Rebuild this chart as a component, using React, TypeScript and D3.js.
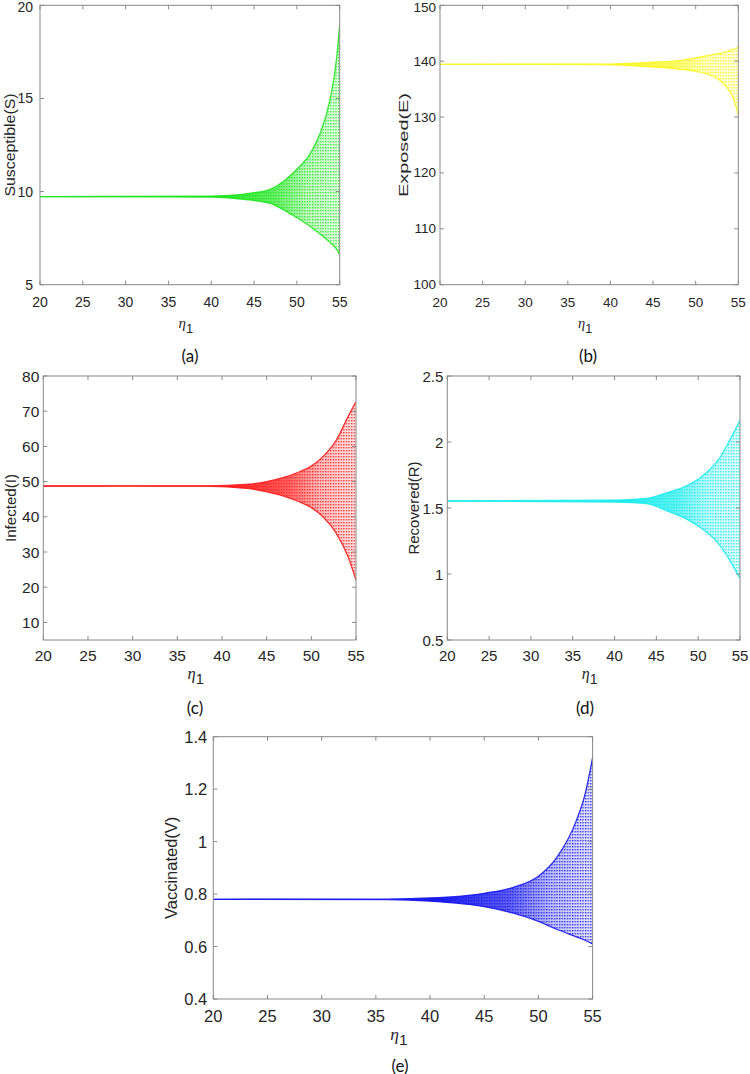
import React from 'react';
import * as d3 from 'd3';

// bifurcation diagrams vs eta_1, envelopes
const etaDomain = [20, 55];
const etaTicks = [20, 25, 30, 35, 40, 45, 50, 55];

const sEta = [20, 40, 43.4, 45, 46.9, 48.4, 50, 51.5, 52.7, 53.9, 54.65, 55];
const sUpper = [9.73, 9.76, 9.84, 9.94, 10.12, 10.54, 11.2, 12.0, 13.1, 15.0, 17.2, 19.0];
const sLower = [9.73, 9.7, 9.6, 9.52, 9.36, 9.03, 8.6, 8.15, 7.72, 7.26, 6.9, 6.6];
const sTicks = [5, 10, 15, 20];

const eEta = [20, 38.8, 44.6, 48.5, 51.7, 53.6, 54.4, 55];
const eUpper = [139.44, 139.47, 139.8, 140.2, 141.1, 141.7, 142.1, 142.5];
const eLower = [139.44, 139.41, 139.0, 138.5, 137.5, 135.4, 133.4, 130.4];
const eTicks = [100, 110, 120, 130, 140, 150];

const iEta = [20, 38, 43.1, 45, 46.9, 48.7, 50, 51.3, 52.8, 54.1, 55];
const iUpper = [48.75, 48.8, 49.3, 50.0, 51.2, 52.8, 54.4, 57.1, 61.8, 68.4, 72.7];
const iLower = [48.75, 48.7, 48.0, 47.1, 45.9, 44.2, 42.6, 40.0, 35.3, 28.7, 22];
const iTicks = [10, 20, 30, 40, 50, 60, 70, 80];

const rEta = [20, 40, 44, 46, 48.8, 50.4, 52.4, 54, 55];
const rUpper = [1.553, 1.56, 1.574, 1.611, 1.674, 1.737, 1.864, 2.04, 2.167];
const rLower = [1.553, 1.545, 1.532, 1.485, 1.41, 1.346, 1.232, 1.081, 0.967];
const rTicks = [0.5, 1, 1.5, 2, 2.5];

const vEta = [20, 36, 40, 45, 47.7, 50, 51.7, 53.5, 54.3, 55];
const vUpper = [0.78, 0.781, 0.785, 0.803, 0.826, 0.868, 0.94, 1.08, 1.18, 1.32];
const vLower = [0.78, 0.779, 0.773, 0.752, 0.727, 0.696, 0.666, 0.637, 0.624, 0.61];
const vTicks = [0.4, 0.6, 0.8, 1, 1.2, 1.4];

const panels = [
  { id: 'a', eta: sEta, upper: sUpper, lower: sLower, ticks: sTicks, yDomain: [5, 20], color: '#22e622',
    label: 'Susceptible(S)', labelLen: 103, box: [40, 339.7, 5.3, 284.7], font: 14, labelX: 9.5, gap: 7,
    xTickY: 302, etaY: 328, cap: '(a)', capX: 190, capY: 355 },
  { id: 'b', eta: eEta, upper: eUpper, lower: eLower, ticks: eTicks, yDomain: [100, 150], color: '#f8f828',
    label: 'Exposed(E)', labelLen: 104, box: [440, 738.3, 5.3, 284.7], font: 13.5, labelX: 403, gap: 4,
    xTickY: 302, etaY: 328, cap: '(b)', capX: 588, capY: 355 },
  { id: 'c', eta: iEta, upper: iUpper, lower: iLower, ticks: iTicks, yDomain: [5, 80], color: '#ff1e1e',
    label: 'Infected(I)', labelLen: 68, box: [43.3, 356, 376, 640], font: 15.5, labelX: 10, gap: 4,
    xTickY: 655, etaY: 679, cap: '(c)', capX: 195, capY: 707 },
  { id: 'd', eta: rEta, upper: rUpper, lower: rLower, ticks: rTicks, yDomain: [0.5, 2.5], color: '#1eecec',
    label: 'Recovered(R)', labelLen: 93, box: [447.3, 740, 376, 640], font: 15, labelX: 413, gap: 4,
    xTickY: 655, etaY: 679, cap: '(d)', capX: 585, capY: 707 },
  { id: 'e', eta: vEta, upper: vUpper, lower: vLower, ticks: vTicks, yDomain: [0.4, 1.4], color: '#1a1aee',
    label: 'Vaccinated(V)', labelLen: 0, box: [213.3, 592.6, 736.7, 999], font: 16.5, labelX: 171, gap: 6,
    xTickY: 1016, etaY: 1040, cap: '(e)', capX: 400, capY: 1065 },
];

const fmt = (v: number) => String(+v.toFixed(2));

function BifPanel({ p }: { p: any }) {
  const [x0, x1, y0, y1] = p.box;
  const x = d3.scaleLinear().domain(etaDomain).range([x0, x1]);
  const y = d3.scaleLinear().domain(p.yDomain).range([y1, y0]);
  const pts = p.eta.map((e: number, i: number) => ({ e, u: p.upper[i], l: p.lower[i] }));

  const area = d3.area<any>().x(d => x(d.e)).y0(d => y(d.l)).y1(d => y(d.u)).curve(d3.curveMonotoneX);
  const upLine = d3.line<any>().x(d => x(d.e)).y(d => y(d.u)).curve(d3.curveMonotoneX);
  const loLine = d3.line<any>().x(d => x(d.e)).y(d => y(d.l)).curve(d3.curveMonotoneX);

  const tl = 4;
  const axisColor = '#888';
  const txt = '#262626';
  const sans = '"Liberation Sans", Arial, sans-serif';

  return (
    <g>
      <defs>
        <clipPath id={`clip-${p.id}`}>
          <rect x={x0} y={y0} width={x1 - x0} height={y1 - y0} />
        </clipPath>
        <linearGradient id={`grad-${p.id}`} gradientUnits="userSpaceOnUse" x1={x(41)} x2={x(55)} y1={0} y2={0}>
          <stop offset="0" stopColor={p.color} stopOpacity={1} />
          <stop offset="0.45" stopColor={p.color} stopOpacity={0.7} />
          <stop offset="0.72" stopColor={p.color} stopOpacity={0.28} />
          <stop offset="1" stopColor={p.color} stopOpacity={0.12} />
        </linearGradient>
        <pattern id={`dots-${p.id}`} patternUnits="userSpaceOnUse" width={2.6} height={3}>
          <rect x={0} y={0} width={1.3} height={1.4} fill={p.color} fillOpacity={0.9} />
        </pattern>
      </defs>

      <g clipPath={`url(#clip-${p.id})`}>
        <path d={area(pts) || ''} fill={`url(#grad-${p.id})`} />
        <path d={area(pts) || ''} fill={`url(#dots-${p.id})`} />
        <path d={upLine(pts) || ''} fill="none" stroke={p.color} strokeWidth={1.3} strokeOpacity={0.9} />
        <path d={loLine(pts) || ''} fill="none" stroke={p.color} strokeWidth={1.3} strokeOpacity={0.9} />
      </g>

      {/* box with inward ticks on all sides */}
      <rect x={x0} y={y0} width={x1 - x0} height={y1 - y0} fill="none" stroke={axisColor} strokeWidth={1} />
      {etaTicks.map(t => (
        <g key={`xt${t}`}>
          <line x1={x(t)} x2={x(t)} y1={y1} y2={y1 - tl} stroke={axisColor} />
          <line x1={x(t)} x2={x(t)} y1={y0} y2={y0 + tl} stroke={axisColor} />
          <text x={x(t)} y={p.xTickY} textAnchor="middle" dominantBaseline="central"
            fontFamily={sans} fontSize={p.font} fill={txt}>{t}</text>
        </g>
      ))}
      {p.ticks.map((t: number) => (
        <g key={`yt${t}`}>
          <line x1={x0} x2={x0 + tl} y1={y(t)} y2={y(t)} stroke={axisColor} />
          <line x1={x1} x2={x1 - tl} y1={y(t)} y2={y(t)} stroke={axisColor} />
          <text x={x0 - p.gap} y={Math.max(y(t), 7)} textAnchor="end" dominantBaseline="central"
            fontFamily={sans} fontSize={p.font} fill={txt}>{fmt(t)}</text>
        </g>
      ))}

      <text transform={`translate(${p.labelX},${(y0 + y1) / 2}) rotate(-90)`} textAnchor="middle"
        dominantBaseline="central" fontFamily={sans} fontSize={p.font} fill={txt}
        {...(p.labelLen ? { textLength: p.labelLen, lengthAdjust: 'spacingAndGlyphs' } : {})}>
        {p.label}
      </text>

      <text x={(x0 + x1) / 2 - 4} y={p.etaY} textAnchor="middle" fill={txt}>
        <tspan fontFamily='"Liberation Serif", serif' fontStyle="italic" fontSize={p.font + 1}>η</tspan>
        <tspan fontFamily={sans} fontSize={p.font - 1} dy={5}>1</tspan>
      </text>

      <text x={p.capX} y={p.capY} textAnchor="middle" dominantBaseline="central"
        fontFamily='Lato, "Open Sans", sans-serif' fontSize={17} fill="#111">{p.cap}</text>
    </g>
  );
}

export default function App() {
  return (
    <svg width={750} height={1074} viewBox="0 0 750 1074"
      style={{ position: 'absolute', left: 0, top: 0, background: '#fff' }}>
      <rect width={750} height={1074} fill="#fff" />
      {panels.map(p => <BifPanel key={p.id} p={p} />)}
    </svg>
  );
}
